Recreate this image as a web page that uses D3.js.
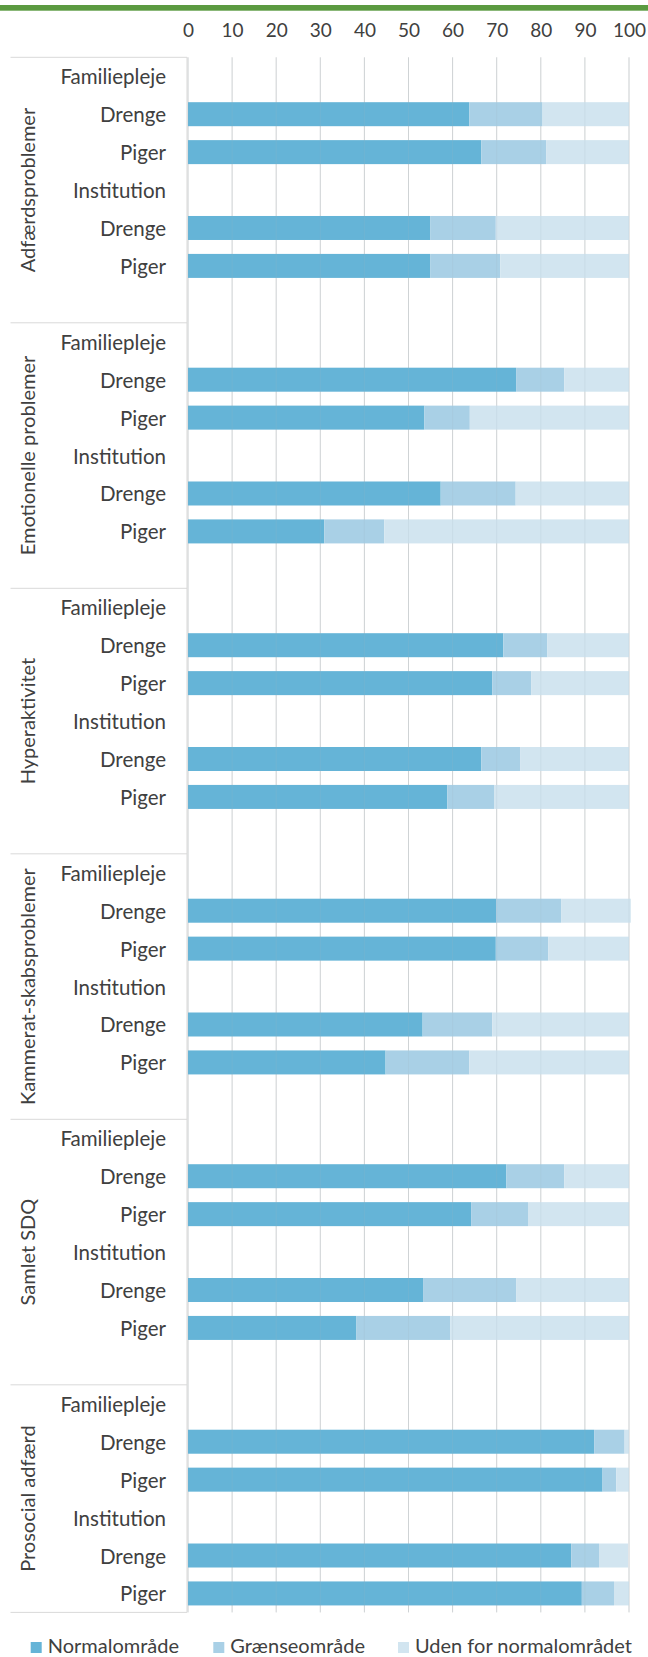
<!DOCTYPE html>
<html>
<head>
<meta charset="utf-8">
<script src="https://cdn.jsdelivr.net/npm/d3@7"></script>
<style>
  html, body { margin: 0; padding: 0; background: #fff; }
  svg { display: block; }
  text { font-family: Lato, "Open Sans", sans-serif; fill: #404040; }
</style>
</head>
<body>
<svg id="chart" width="648" height="1657"></svg>
<script>
// ---- Data ----
const groups = ["Adfærdsproblemer", "Emotionelle problemer", "Hyperaktivitet",
                "Kammerat-skabsproblemer", "Samlet SDQ", "Prosocial adfærd"];
const rowLabels = ["Familiepleje", "Drenge", "Piger", "Institution", "Drenge", "Piger"];
const seriesNames = ["Normalområde", "Grænseområde", "Uden for normalområdet"];
const xTicks = [0, 10, 20, 30, 40, 50, 60, 70, 80, 90, 100];

// values per group: [Fam Drenge, Fam Piger, Inst Drenge, Inst Piger]
const normal = [
  [63.8, 66.5, 54.9, 54.9],
  [74.4, 53.6, 57.3, 30.9],
  [71.5, 69.0, 66.5, 58.8],
  [69.9, 69.8, 53.2, 44.8],
  [72.2, 64.2, 53.3, 38.2],
  [92.1, 94.0, 86.9, 89.3]
];
const graense = [
  [16.6, 14.7, 14.9, 15.9],
  [10.9, 10.3, 17.0, 13.6],
  [10.0, 8.8, 8.8, 10.6],
  [14.7, 11.9, 15.8, 19.0],
  [13.1, 12.9, 21.1, 21.3],
  [6.9, 3.1, 6.3, 7.3]
];
const uden = [
  [19.6, 18.8, 30.2, 29.2],
  [14.7, 36.1, 25.7, 55.5],
  [18.5, 22.2, 24.7, 30.6],
  [15.8, 18.3, 31.0, 36.2],
  [14.7, 22.9, 25.6, 40.5],
  [1.0, 2.9, 6.6, 3.4]
];
const colors = ["#65b4d7", "#a9d0e6", "#d2e5f0"];

// ---- Build band list ----
const bands = [];
const barRowIdx = [1, 2, 4, 5];
groups.forEach((g, gi) => {
  rowLabels.forEach((lab, ri) => {
    const bi = barRowIdx.indexOf(ri);
    bands.push({ key: gi + "-" + ri, group: gi, label: lab, bar: bi >= 0 ? bi : null });
  });
  if (gi < groups.length - 1) bands.push({ key: gi + "-blank", group: gi, label: "", bar: null });
});

const svg = d3.select("#chart");
const plotTop = 57.3, plotBottom = 1612.4;
const x = d3.scaleLinear().domain([0, 100]).range([188, 629]);
const pad = 1 - 24 / ((plotBottom - plotTop) / bands.length);
const y = d3.scaleBand().domain(bands.map(d => d.key)).range([plotTop, plotBottom])
  .paddingInner(pad).paddingOuter(pad / 2);

// Top green rule
svg.append("rect").attr("x", 0).attr("y", 5).attr("width", 648).attr("height", 5.7).attr("fill", "#5b9a40");

// Gridlines
svg.append("g").selectAll("line").data(xTicks).join("line")
  .attr("x1", d => x(d)).attr("x2", d => x(d))
  .attr("y1", plotTop).attr("y2", plotBottom)
  .attr("stroke", "#d9d9d9").attr("stroke-width", 1);

// Top axis tick labels
const xAxis = d3.axisTop(x).tickValues(xTicks).tickSize(0).tickPadding(0);
const ax = svg.append("g").attr("transform", "translate(0,37)").call(xAxis);
ax.select(".domain").remove();
ax.selectAll("text").style("font-size", "19px").attr("fill", "#404040")
  .style("font-family", "Lato, 'Open Sans', sans-serif");

// Bars
const barData = [];
bands.forEach(b => {
  if (b.bar === null) return;
  const vals = [normal[b.group][b.bar], graense[b.group][b.bar], uden[b.group][b.bar]];
  let acc = 0;
  vals.forEach((v, si) => {
    barData.push({ key: b.key, s: si, x0: acc, x1: acc + v });
    acc += v;
  });
});
svg.append("g").selectAll("rect").data(barData).join("rect")
  .attr("x", d => x(d.x0)).attr("width", d => x(d.x1) - x(d.x0))
  .attr("y", d => y(d.key)).attr("height", y.bandwidth())
  .attr("fill", d => colors[d.s]);

// faint gridlines showing through the bars
svg.append("g").selectAll("line").data(xTicks).join("line")
  .attr("x1", d => x(d)).attr("x2", d => x(d))
  .attr("y1", plotTop).attr("y2", plotBottom)
  .attr("stroke", "#9fb8c4").attr("stroke-opacity", 0.18).attr("stroke-width", 1);

// Left axis line
svg.append("line").attr("x1", 187).attr("x2", 187).attr("y1", plotTop).attr("y2", plotBottom)
  .attr("stroke", "#d9d9d9").attr("stroke-width", 1);

// Group boundaries
const step = y.step();
const boundaries = [];
groups.forEach((g, gi) => boundaries.push(plotTop + gi * 7 * step));
boundaries.push(plotBottom);
svg.append("g").selectAll("line").data(boundaries).join("line")
  .attr("x1", 10.5).attr("x2", 187).attr("y1", d => d).attr("y2", d => d)
  .attr("stroke", "#d9d9d9").attr("stroke-width", 1);

// Row labels
svg.append("g").selectAll("text").data(bands.filter(b => b.label)).join("text")
  .attr("x", 166).attr("y", d => y(d.key) + y.bandwidth() / 2)
  .attr("text-anchor", "end").attr("dominant-baseline", "central")
  .style("font-size", "20.5px").text(d => d.label);

// Group labels (rotated)
svg.append("g").selectAll("text").data(groups).join("text")
  .attr("transform", (d, gi) => {
    const top = boundaries[gi], bot = boundaries[gi + 1];
    return `translate(26.7,${(top + bot) / 2}) rotate(-90)`;
  })
  .attr("text-anchor", "middle").attr("dominant-baseline", "central")
  .style("font-size", "20px").text(d => d);

// Legend
const legendX = [30.7, 213.3, 398];
const lg = svg.append("g").selectAll("g").data(seriesNames).join("g")
  .attr("transform", (d, i) => `translate(${legendX[i]},1642)`);
lg.append("rect").attr("width", 11).attr("height", 11).attr("fill", (d, i) => colors[i]);
lg.append("text").attr("x", 17).attr("y", 11)
  .style("font-size", "20px").text(d => d);
</script>
</body>
</html>
